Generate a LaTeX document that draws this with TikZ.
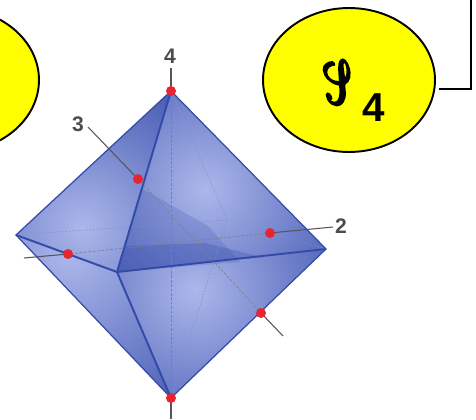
\documentclass[tikz,border=0pt]{standalone}
\usepackage{amsmath}
\usepackage{amssymb}
\usepackage{mathrsfs}
\usepackage{fontspec}
\newfontfamily\groupfont{Liberation Sans}
\usepackage{tikz}
\usetikzlibrary{shapes.geometric}
\definecolor{groupyellow}{RGB}{255,255,0}
\definecolor{octlight}{RGB}{172,183,234}
\definecolor{octdark}{RGB}{42,66,165}
\definecolor{octedge}{RGB}{52,74,168}
\definecolor{axisgrey}{RGB}{85,85,90}
\definecolor{dotred}{RGB}{232,36,48}
\tikzset{
  groupoval/.style={draw=black, line width=1.1pt, fill=groupyellow, ellipse, minimum width=3.44cm, minimum height=2.88cm, inner sep=0pt},
  reddot/.style={circle, fill=dotred, minimum size=0.2cm, inner sep=0pt},
  axislabel/.style={font=\fontsize{12}{12}\selectfont\groupfont\bfseries, text=black!70, inner sep=0pt},
  outeredge/.style={draw=octedge, line width=0.7pt},
  frontedge/.style={draw=octedge, line width=1.1pt},
  backedge/.style={draw=octedge!60, line width=0.3pt, dash pattern=on 1pt off 1pt},
  axisline/.style={draw=axisgrey, line width=0.6pt},
  axishidden/.style={draw=axisgrey!75, line width=0.4pt, dash pattern=on 1.5pt off 1pt}
}
\begin{document}
\begin{tikzpicture}[x=0.02cm,y=-0.02cm]
\useasboundingbox (0,0) rectangle (476,419);
\clip (0,0) rectangle (476,419);
% Vertices of the octahedron
\coordinate (top) at (171,91);
\coordinate (bottom) at (171,398);
\coordinate (left) at (16,235);
\coordinate (right) at (326,249);
\coordinate (front) at (117,272);
\coordinate (back) at (227,220);
% Ends of the axes
\coordinate (end4) at (171,68);
\coordinate (end4b) at (171,419);
\coordinate (end3) at (88,127);
\coordinate (end3b) at (283,336);
\coordinate (end2) at (333,227);
\coordinate (end2b) at (24,258);
% Corner of the connector
\coordinate (corner) at (471,89);
\coordinate (linetop) at (471,0);
\coordinate (linestart) at (439,89);
% Group ovals
\node[groupoval] (ovalleft) at (-47,80) {};
\node[groupoval] (ovalright) at (349,80) {};
\node[font=\fontsize{84}{84}\selectfont, xslant=-0.55, xscale=0.9, yscale=1.4, transform shape] (groupS) at (338,82)
  {\special{pdf:code 2 Tr 1.3 w}$\mathscr{S}$\special{pdf:code 0 Tr}};
\node[font=\fontsize{23}{23}\selectfont\groupfont\bfseries, inner sep=0pt] (groupfour) at (374,108) {4};
\draw[line width=1.1pt] (linestart) -- (corner) -- (linetop);
% Faces
\foreach \va/\vb/\vc/\cx/\cy/\rad in {
  top/left/front/82/228/205,
  top/front/right/205/190/205,
  left/front/bottom/70/255/240,
  front/right/bottom/195/290/205}{
  \begin{scope}
    \clip (\va) -- (\vb) -- (\vc) -- cycle;
    \shade[inner color=octlight, outer color=octdark] (\cx,\cy) circle (\rad);
  \end{scope}
}
% Darker parts seen through the front
\fill[octdark, opacity=0.18] (141,188) -- (front) -- (240,262) -- (208,226) -- cycle;
\fill[octdark, opacity=0.25] (125,246) -- (front) -- (262,257) -- (205,243) -- cycle;
% Hidden edges
\draw[backedge] (left) -- (back) -- (right);
\draw[backedge] (top) -- (back) -- (bottom);
% Axes
\draw[axishidden] (top) -- (bottom);
\draw[axishidden] (138,179) -- (261,313);
\draw[axishidden] (270,233) -- (68,254);
\draw[axisline] (end4) -- (top);
\draw[axisline] (bottom) -- (end4b);
\draw[axisline] (end3) -- (138,179);
\draw[axisline] (261,313) -- (end3b);
\draw[axisline] (end2) -- (270,233);
\draw[axisline] (68,254) -- (end2b);
% Edges
\draw[outeredge] (top) -- (left) -- (bottom) -- (right) -- cycle;
\draw[frontedge] (top) -- (front) -- (bottom);
\draw[frontedge] (left) -- (front) -- (right);
% Red points
\node[reddot] (ptop) at (top) {};
\node[reddot] (pbottom) at (bottom) {};
\node[reddot] (pthree) at (138,179) {};
\node[reddot] (pthreeb) at (261,313) {};
\node[reddot] (ptwo) at (270,233) {};
\node[reddot] (ptwob) at (68,254) {};
% Axis labels
\node[axislabel] (labelfour) at (170,56) {4};
\node[axislabel] (labelthree) at (78,124) {3};
\node[axislabel] (labeltwo) at (341,226) {2};
\end{tikzpicture}
\end{document}
